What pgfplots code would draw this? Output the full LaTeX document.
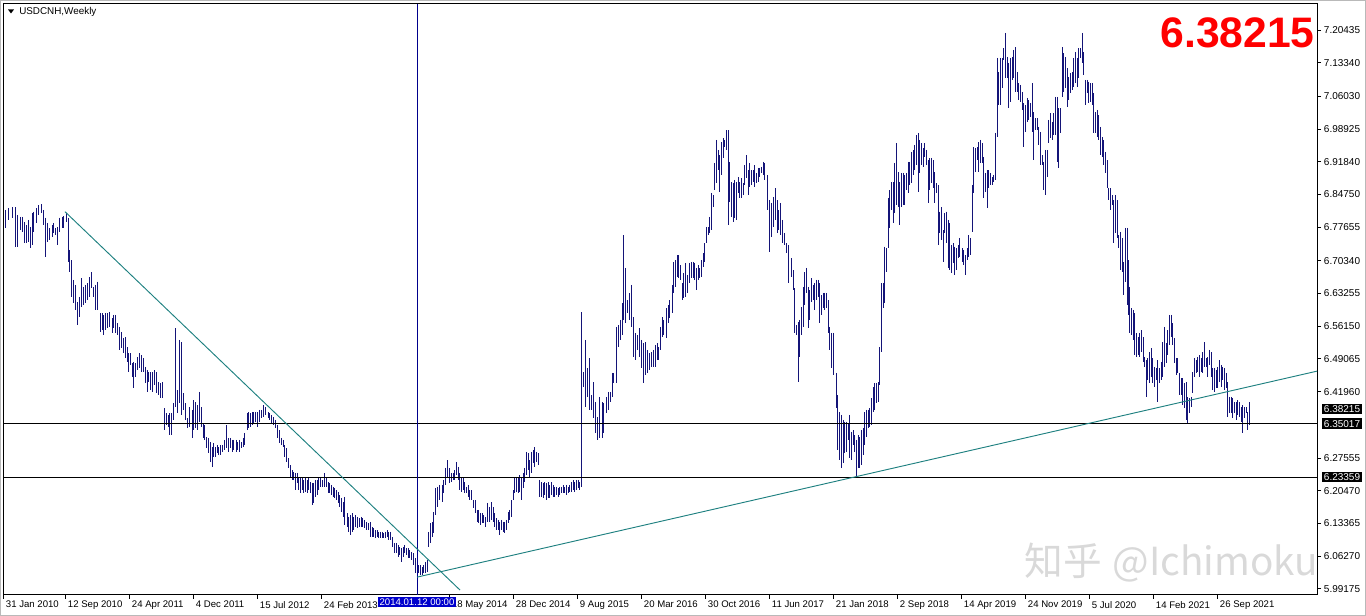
\documentclass[border=0pt]{standalone}
\usepackage{fontspec}
\setmainfont{Liberation Sans}
\newfontfamily\cjk{Noto Sans CJK SC}
\usepackage{pgfplots}
\usepackage{pgfplotstable}
\pgfplotsset{compat=1.18}

\definecolor{barblue}{RGB}{20,20,120}
\definecolor{trend}{RGB}{30,128,128}
\definecolor{vline}{RGB}{0,0,140}
\definecolor{selblue}{RGB}{0,0,204}
\newcommand\tfont{\fontsize{7.2}{8.5}\selectfont}
\newcommand\pfont{\fontsize{7.5}{9}\selectfont}

% weekly bars: x position (chart px), high, low
\pgfplotstableread[row sep=\\]{
x hi lo\\
5 6.814 6.775\\ 8 6.818 6.792\\ 12 6.820 6.797\\ 15 6.820 6.734\\ 17 6.803 6.734\\ 20 6.799 6.770\\ 22 6.799 6.766\\ 24 6.788 6.742\\ 26 6.781 6.742\\ 28 6.792 6.744\\
30 6.777 6.731\\ 32 6.807 6.738\\ 33 6.810 6.766\\ 36 6.818 6.786\\ 38 6.824 6.803\\ 41 6.826 6.807\\ 43 6.814 6.781\\ 45 6.797 6.712\\ 47 6.786 6.744\\ 49 6.775 6.749\\
52 6.781 6.755\\ 53 6.786 6.764\\ 55 6.775 6.759\\ 57 6.777 6.738\\ 59 6.797 6.766\\ 62 6.799 6.775\\ 63 6.801 6.775\\ 66 6.807 6.788\\ 68 6.797 6.701\\ 69 6.727 6.679\\
71 6.705 6.625\\ 73 6.662 6.612\\ 75 6.651 6.597\\ 77 6.614 6.564\\ 79 6.625 6.581\\ 81 6.666 6.603\\ 83 6.647 6.607\\ 85 6.651 6.612\\ 87 6.655 6.618\\ 89 6.668 6.625\\
91 6.679 6.645\\ 93 6.647 6.625\\ 95 6.651 6.597\\ 97 6.658 6.597\\ 100 6.590 6.549\\ 102 6.590 6.553\\ 103 6.586 6.542\\ 105 6.590 6.553\\ 107 6.590 6.557\\ 109 6.592 6.560\\
112 6.579 6.547\\ 113 6.586 6.557\\ 115 6.586 6.547\\ 117 6.568 6.542\\ 119 6.560 6.510\\ 121 6.549 6.514\\ 123 6.536 6.503\\ 125 6.538 6.492\\ 127 6.516 6.484\\ 128 6.503 6.462\\
130 6.503 6.477\\ 132 6.481 6.451\\ 133 6.484 6.427\\ 135 6.481 6.451\\ 137 6.494 6.466\\ 139 6.503 6.471\\ 141 6.499 6.462\\ 143 6.492 6.462\\ 145 6.473 6.438\\ 147 6.466 6.419\\
148 6.462 6.440\\ 150 6.462 6.423\\ 152 6.462 6.419\\ 154 6.466 6.434\\ 156 6.462 6.416\\ 158 6.440 6.412\\ 160 6.438 6.405\\ 162 6.440 6.405\\ 164 6.384 6.336\\ 166 6.373 6.347\\
168 6.369 6.343\\ 169 6.373 6.325\\ 171 6.373 6.325\\ 173 6.395 6.358\\ 175 6.557 6.386\\ 177 6.423 6.373\\ 179 6.532 6.395\\ 181 6.527 6.369\\ 183 6.416 6.380\\ 185 6.395 6.358\\
187 6.362 6.340\\ 189 6.386 6.343\\ 192 6.380 6.319\\ 193 6.401 6.336\\ 195 6.397 6.340\\ 197 6.390 6.336\\ 199 6.419 6.354\\ 201 6.386 6.343\\ 203 6.351 6.319\\ 204 6.347 6.315\\
206 6.321 6.297\\ 208 6.319 6.286\\ 210 6.310 6.267\\ 212 6.299 6.256\\ 213 6.308 6.277\\ 215 6.299 6.277\\ 217 6.304 6.286\\ 218 6.299 6.282\\ 220 6.304 6.282\\ 222 6.304 6.288\\
224 6.315 6.293\\ 226 6.347 6.297\\ 228 6.319 6.288\\ 230 6.319 6.297\\ 232 6.315 6.288\\ 233 6.315 6.293\\ 236 6.315 6.288\\ 237 6.310 6.293\\ 239 6.315 6.288\\ 241 6.310 6.297\\
243 6.319 6.299\\ 244 6.330 6.304\\ 247 6.373 6.336\\ 248 6.375 6.340\\ 250 6.373 6.343\\ 252 6.375 6.347\\ 253 6.375 6.351\\ 255 6.375 6.354\\ 257 6.375 6.343\\ 259 6.380 6.354\\
261 6.380 6.362\\ 263 6.390 6.364\\ 265 6.386 6.369\\ 268 6.375 6.362\\ 269 6.373 6.358\\ 271 6.369 6.351\\ 273 6.364 6.347\\ 275 6.358 6.340\\ 277 6.347 6.319\\ 279 6.336 6.308\\
281 6.319 6.304\\ 283 6.315 6.299\\ 284 6.304 6.277\\ 286 6.297 6.267\\ 288 6.275 6.254\\ 290 6.260 6.232\\ 292 6.249 6.228\\ 293 6.245 6.228\\ 295 6.243 6.206\\ 297 6.243 6.221\\
298 6.234 6.206\\ 300 6.234 6.199\\ 302 6.232 6.206\\ 303 6.228 6.199\\ 305 6.234 6.202\\ 307 6.228 6.199\\ 308 6.232 6.206\\ 310 6.223 6.199\\ 312 6.221 6.174\\ 313 6.221 6.178\\
315 6.228 6.191\\ 317 6.228 6.195\\ 318 6.232 6.206\\ 320 6.232 6.213\\ 322 6.228 6.213\\ 324 6.243 6.213\\ 326 6.234 6.213\\ 328 6.223 6.199\\ 329 6.221 6.199\\ 331 6.217 6.195\\
333 6.213 6.191\\ 334 6.210 6.189\\ 336 6.206 6.184\\ 338 6.202 6.178\\ 339 6.195 6.169\\ 341 6.189 6.158\\ 343 6.180 6.148\\ 344 6.191 6.130\\ 347 6.156 6.126\\ 348 6.148 6.115\\
350 6.152 6.108\\ 352 6.156 6.115\\ 353 6.148 6.119\\ 355 6.152 6.126\\ 357 6.148 6.124\\ 359 6.145 6.126\\ 361 6.148 6.126\\ 362 6.145 6.126\\ 364 6.141 6.124\\ 366 6.137 6.119\\
368 6.134 6.119\\ 370 6.137 6.104\\ 372 6.126 6.104\\ 373 6.124 6.104\\ 375 6.119 6.102\\ 377 6.119 6.104\\ 378 6.115 6.102\\ 380 6.115 6.102\\ 382 6.115 6.102\\ 383 6.113 6.102\\
385 6.115 6.102\\ 387 6.119 6.104\\ 388 6.115 6.098\\ 390 6.115 6.098\\ 392 6.104 6.082\\ 394 6.091 6.069\\ 396 6.091 6.069\\ 398 6.087 6.061\\ 399 6.082 6.065\\ 401 6.080 6.050\\
403 6.082 6.061\\ 404 6.087 6.069\\ 406 6.080 6.065\\ 408 6.080 6.058\\ 409 6.076 6.058\\ 411 6.072 6.054\\ 413 6.069 6.043\\ 415 6.058 6.026\\ 417 6.048 6.011\\ 418 6.043 6.026\\
420 6.043 6.022\\ 422 6.039 6.022\\ 423 6.043 6.026\\ 425 6.050 6.026\\ 427 6.054 6.028\\ 428 6.115 6.082\\ 430 6.134 6.091\\ 432 6.137 6.104\\ 433 6.158 6.113\\ 435 6.210 6.152\\
437 6.213 6.169\\ 439 6.217 6.184\\ 442 6.217 6.180\\ 443 6.228 6.199\\ 445 6.254 6.217\\ 447 6.271 6.232\\ 449 6.254 6.221\\ 451 6.243 6.223\\ 453 6.243 6.228\\ 454 6.249 6.228\\
456 6.267 6.238\\ 458 6.256 6.228\\ 459 6.243 6.206\\ 461 6.234 6.202\\ 463 6.232 6.206\\ 464 6.223 6.199\\ 466 6.213 6.199\\ 468 6.217 6.191\\ 469 6.206 6.184\\ 471 6.206 6.184\\
473 6.184 6.167\\ 475 6.184 6.156\\ 477 6.163 6.137\\ 478 6.163 6.134\\ 480 6.156 6.130\\ 482 6.156 6.134\\ 483 6.152 6.134\\ 485 6.148 6.126\\ 487 6.178 6.137\\ 489 6.169 6.137\\
491 6.180 6.141\\ 493 6.169 6.137\\ 494 6.156 6.126\\ 496 6.145 6.119\\ 498 6.141 6.119\\ 499 6.137 6.108\\ 501 6.141 6.119\\ 503 6.137 6.115\\ 504 6.137 6.113\\ 506 6.141 6.119\\
508 6.158 6.134\\ 509 6.163 6.141\\ 511 6.184 6.148\\ 513 6.206 6.184\\ 514 6.232 6.199\\ 516 6.232 6.202\\ 518 6.234 6.199\\ 519 6.238 6.202\\ 521 6.232 6.184\\ 523 6.243 6.210\\
524 6.254 6.223\\ 526 6.289 6.238\\ 528 6.286 6.249\\ 529 6.271 6.234\\ 531 6.289 6.243\\ 533 6.293 6.265\\ 534 6.299 6.256\\ 536 6.289 6.267\\ 538 6.286 6.260\\ 539 6.228 6.191\\
541 6.223 6.191\\ 543 6.221 6.189\\ 544 6.223 6.195\\ 546 6.221 6.184\\ 548 6.223 6.189\\ 549 6.217 6.189\\ 551 6.223 6.195\\ 553 6.217 6.191\\ 554 6.213 6.191\\ 556 6.213 6.195\\
558 6.210 6.191\\ 559 6.213 6.195\\ 561 6.213 6.199\\ 563 6.217 6.199\\ 564 6.213 6.199\\ 566 6.217 6.195\\ 568 6.213 6.199\\ 569 6.217 6.202\\ 571 6.223 6.202\\ 573 6.228 6.206\\
574 6.223 6.202\\ 576 6.228 6.206\\ 578 6.228 6.210\\ 579 6.223 6.206\\ 581 6.592 6.213\\ 583 6.462 6.430\\ 585 6.532 6.386\\ 587 6.471 6.408\\ 589 6.492 6.380\\ 591 6.412 6.380\\
593 6.440 6.362\\ 595 6.397 6.330\\ 597 6.364 6.315\\ 599 6.408 6.319\\ 602 6.397 6.319\\ 603 6.395 6.330\\ 606 6.408 6.373\\ 608 6.419 6.380\\ 610 6.419 6.397\\ 612 6.460 6.408\\
613 6.460 6.438\\ 616 6.560 6.438\\ 618 6.564 6.516\\ 620 6.575 6.532\\ 622 6.612 6.542\\ 623 6.759 6.575\\ 625 6.688 6.568\\ 627 6.618 6.590\\ 629 6.633 6.575\\ 631 6.651 6.560\\
633 6.581 6.495\\ 635 6.547 6.488\\ 637 6.542 6.510\\ 639 6.557 6.495\\ 641 6.532 6.471\\ 643 6.525 6.438\\ 645 6.527 6.456\\ 647 6.510 6.460\\ 649 6.503 6.466\\ 651 6.505 6.473\\
653 6.510 6.473\\ 655 6.521 6.473\\ 657 6.525 6.488\\ 658 6.516 6.488\\ 660 6.560 6.510\\ 662 6.581 6.538\\ 663 6.575 6.542\\ 666 6.601 6.536\\ 668 6.607 6.568\\ 669 6.618 6.579\\
672 6.651 6.590\\ 673 6.701 6.634\\ 675 6.705 6.647\\ 677 6.716 6.668\\ 678 6.716 6.666\\ 680 6.694 6.662\\ 682 6.655 6.618\\ 683 6.677 6.623\\ 685 6.699 6.625\\ 687 6.673 6.634\\
689 6.699 6.655\\ 691 6.701 6.666\\ 693 6.701 6.666\\ 694 6.699 6.662\\ 696 6.688 6.640\\ 698 6.694 6.662\\ 699 6.688 6.666\\ 701 6.705 6.668\\ 703 6.720 6.690\\ 704 6.742 6.701\\
706 6.777 6.742\\ 708 6.777 6.759\\ 709 6.799 6.764\\ 711 6.851 6.770\\ 713 6.846 6.820\\ 714 6.916 6.857\\ 716 6.966 6.872\\ 718 6.944 6.900\\ 719 6.933 6.853\\ 721 6.961 6.890\\
723 6.970 6.927\\ 724 6.966 6.950\\ 726 6.987 6.944\\ 728 6.987 6.781\\ 729 6.918 6.831\\ 731 6.874 6.799\\ 733 6.872 6.788\\ 734 6.879 6.797\\ 736 6.874 6.792\\ 738 6.885 6.851\\
739 6.874 6.840\\ 741 6.883 6.840\\ 743 6.872 6.846\\ 744 6.911 6.868\\ 746 6.933 6.883\\ 748 6.900 6.846\\ 749 6.916 6.864\\ 751 6.900 6.868\\ 753 6.900 6.874\\ 754 6.911 6.864\\
756 6.894 6.872\\ 758 6.905 6.874\\ 759 6.905 6.885\\ 761 6.907 6.894\\ 763 6.918 6.890\\ 764 6.916 6.879\\ 767 6.890 6.814\\ 769 6.835 6.722\\ 771 6.829 6.755\\ 773 6.842 6.777\\
775 6.861 6.792\\ 777 6.835 6.764\\ 778 6.814 6.770\\ 780 6.829 6.759\\ 782 6.792 6.742\\ 784 6.764 6.738\\ 786 6.742 6.720\\ 788 6.738 6.655\\ 791 6.709 6.668\\ 793 6.683 6.640\\
794 6.644 6.547\\ 796 6.564 6.542\\ 798 6.571 6.440\\ 799 6.575 6.495\\ 801 6.603 6.542\\ 803 6.647 6.560\\ 804 6.679 6.607\\ 806 6.688 6.634\\ 808 6.647 6.557\\ 809 6.640 6.575\\
811 6.666 6.614\\ 813 6.651 6.618\\ 814 6.655 6.597\\ 816 6.662 6.618\\ 818 6.662 6.625\\ 819 6.655 6.568\\ 821 6.629 6.586\\ 823 6.634 6.601\\ 824 6.634 6.597\\ 826 6.634 6.601\\
828 6.618 6.547\\ 829 6.560 6.510\\ 831 6.547 6.471\\ 833 6.547 6.456\\ 836 6.460 6.384\\ 837 6.412 6.293\\ 839 6.375 6.271\\ 841 6.369 6.254\\ 843 6.358 6.265\\ 844 6.354 6.286\\
846 6.354 6.288\\ 848 6.351 6.315\\ 849 6.369 6.275\\ 851 6.332 6.271\\ 853 6.336 6.304\\ 854 6.325 6.288\\ 856 6.315 6.232\\ 858 6.325 6.254\\ 859 6.321 6.254\\ 861 6.336 6.260\\
863 6.340 6.282\\ 864 6.375 6.304\\ 866 6.380 6.321\\ 868 6.380 6.340\\ 869 6.384 6.343\\ 871 6.405 6.347\\ 873 6.429 6.375\\ 874 6.438 6.380\\ 876 6.438 6.395\\ 878 6.440 6.397\\
879 6.516 6.434\\ 881 6.655 6.505\\ 883 6.655 6.601\\ 884 6.734 6.612\\ 886 6.731 6.679\\ 888 6.840 6.731\\ 889 6.857 6.775\\ 891 6.874 6.814\\ 893 6.874 6.786\\ 894 6.916 6.807\\
896 6.959 6.824\\ 898 6.896 6.820\\ 899 6.874 6.781\\ 901 6.894 6.820\\ 903 6.894 6.824\\ 904 6.890 6.824\\ 906 6.894 6.857\\ 908 6.918 6.851\\ 909 6.918 6.868\\ 911 6.940 6.872\\
913 6.944 6.890\\ 914 6.955 6.900\\ 916 6.976 6.911\\ 918 6.981 6.853\\ 919 6.966 6.894\\ 921 6.959 6.911\\ 923 6.948 6.907\\ 924 6.959 6.929\\ 926 6.944 6.911\\ 928 6.922 6.829\\
929 6.927 6.857\\ 931 6.927 6.872\\ 933 6.922 6.861\\ 934 6.896 6.829\\ 936 6.872 6.851\\ 938 6.868 6.738\\ 939 6.810 6.764\\ 941 6.820 6.749\\ 943 6.770 6.701\\ 944 6.807 6.764\\
946 6.810 6.742\\ 948 6.792 6.688\\ 949 6.786 6.683\\ 951 6.738 6.677\\ 953 6.742 6.699\\ 954 6.734 6.673\\ 956 6.731 6.683\\ 958 6.738 6.709\\ 959 6.753 6.712\\ 962 6.731 6.701\\
963 6.727 6.694\\ 965 6.716 6.673\\ 967 6.731 6.705\\ 968 6.759 6.712\\ 970 6.753 6.716\\ 972 6.868 6.766\\ 973 6.950 6.851\\ 975 6.948 6.896\\ 977 6.950 6.922\\ 978 6.961 6.896\\
980 6.966 6.916\\ 982 6.959 6.916\\ 983 6.929 6.840\\ 985 6.894 6.853\\ 987 6.900 6.818\\ 988 6.900 6.861\\ 990 6.894 6.868\\ 992 6.885 6.868\\ 993 6.890 6.874\\ 995 6.981 6.879\\
997 7.144 6.972\\ 998 7.113 7.042\\ 1000 7.144 7.042\\ 1002 7.144 7.079\\ 1003 7.165 7.139\\ 1005 7.198 7.100\\ 1007 7.146 7.100\\ 1008 7.133 7.035\\ 1010 7.144 7.048\\ 1012 7.146 7.096\\
1013 7.161 7.100\\ 1015 7.167 7.070\\ 1017 7.113 7.070\\ 1018 7.089 7.052\\ 1020 7.085 7.048\\ 1022 7.070 7.031\\ 1023 7.046 6.950\\ 1025 7.042 6.983\\ 1027 7.057 7.005\\ 1028 7.052 7.009\\
1030 7.046 7.015\\ 1032 7.089 6.983\\ 1033 7.026 6.922\\ 1035 7.013 6.987\\ 1037 7.013 6.987\\ 1038 6.994 6.955\\ 1040 6.983 6.911\\ 1042 6.933 6.911\\ 1043 6.918 6.857\\ 1045 6.944 6.846\\
1047 6.944 6.885\\ 1048 7.009 6.959\\ 1050 7.024 6.970\\ 1052 7.005 6.966\\ 1053 7.024 6.976\\ 1055 7.059 6.976\\ 1057 7.059 6.918\\ 1058 7.035 6.905\\ 1060 7.035 6.981\\ 1062 7.167 7.059\\
1063 7.154 7.070\\ 1065 7.146 7.079\\ 1067 7.122 7.037\\ 1068 7.102 7.052\\ 1070 7.111 7.068\\ 1072 7.113 7.074\\ 1073 7.144 7.081\\ 1075 7.157 7.089\\ 1077 7.144 7.081\\ 1078 7.165 7.100\\
1080 7.165 7.144\\ 1082 7.198 7.133\\ 1083 7.157 7.107\\ 1085 7.096 7.042\\ 1087 7.096 7.068\\ 1088 7.092 7.046\\ 1090 7.089 7.048\\ 1092 7.089 7.042\\ 1093 7.068 6.981\\ 1095 7.026 6.981\\
1097 7.031 6.972\\ 1098 7.020 6.966\\ 1100 6.994 6.933\\ 1102 6.972 6.929\\ 1103 6.966 6.911\\ 1105 6.940 6.894\\ 1107 6.922 6.861\\ 1108 6.861 6.835\\ 1110 6.861 6.814\\ 1112 6.846 6.824\\
1113 6.835 6.742\\ 1115 6.846 6.764\\ 1117 6.835 6.753\\ 1118 6.759 6.731\\ 1120 6.766 6.683\\ 1122 6.753 6.679\\ 1123 6.701 6.629\\ 1125 6.775 6.657\\ 1127 6.775 6.607\\ 1128 6.705 6.586\\
1129 6.647 6.547\\ 1131 6.601 6.542\\ 1133 6.597 6.532\\ 1134 6.590 6.499\\ 1136 6.547 6.495\\ 1138 6.538 6.499\\ 1139 6.547 6.495\\ 1141 6.553 6.505\\ 1143 6.538 6.484\\ 1144 6.495 6.473\\
1146 6.488 6.408\\ 1147 6.492 6.445\\ 1149 6.505 6.438\\ 1151 6.514 6.451\\ 1152 6.492 6.438\\ 1154 6.473 6.430\\ 1156 6.471 6.445\\ 1157 6.488 6.397\\ 1159 6.471 6.438\\ 1161 6.484 6.445\\
1162 6.527 6.451\\ 1164 6.560 6.473\\ 1166 6.525 6.481\\ 1167 6.553 6.499\\ 1169 6.586 6.521\\ 1171 6.586 6.538\\ 1172 6.568 6.521\\ 1174 6.536 6.481\\ 1176 6.492 6.456\\ 1177 6.492 6.460\\
1179 6.460 6.412\\ 1181 6.449 6.412\\ 1182 6.449 6.390\\ 1184 6.438 6.384\\ 1186 6.440 6.358\\ 1187 6.408 6.351\\ 1189 6.405 6.373\\ 1191 6.408 6.386\\ 1192 6.462 6.416\\ 1194 6.492 6.451\\
1196 6.488 6.460\\ 1197 6.494 6.462\\ 1199 6.499 6.451\\ 1201 6.492 6.462\\ 1202 6.505 6.460\\ 1204 6.527 6.473\\ 1206 6.492 6.473\\ 1207 6.494 6.451\\ 1209 6.510 6.477\\ 1211 6.505 6.451\\
1212 6.471 6.423\\ 1214 6.471 6.419\\ 1216 6.466 6.427\\ 1217 6.473 6.427\\ 1219 6.488 6.440\\ 1221 6.477 6.430\\ 1222 6.473 6.445\\ 1224 6.471 6.423\\ 1226 6.460 6.427\\ 1227 6.440 6.364\\
1229 6.408 6.373\\ 1231 6.408 6.373\\ 1232 6.405 6.362\\ 1234 6.397 6.373\\ 1236 6.397 6.358\\ 1237 6.401 6.369\\ 1239 6.397 6.364\\ 1241 6.386 6.354\\ 1242 6.390 6.330\\ 1244 6.386 6.362\\
1246 6.386 6.373\\ 1247 6.375 6.336\\ 1249 6.397 6.347\\
}\bars

\begin{document}
\begin{tikzpicture}
\path[use as bounding box] (0pt,0pt) rectangle (1024.5pt,462pt);
\begin{axis}[
    at={(2.25pt,15.75pt)}, anchor=south west,
    scale only axis, width=985.5pt, height=443.25pt,
    xmin=3, xmax=1317, ymin=5.97825, ymax=7.26072,
    clip mode=individual,
    axis line style={black, line width=0.75pt},
    tick align=outside, major tick length=3pt,
    tick style={black, line width=0.6pt},
    xtick pos=lower, ytick pos=upper, yticklabel pos=upper,
    xtick={3,65,129,193,257,321,449,513,577,641,705,769,833,897,961,1025,1089,1153,1217},
    xticklabels={31 Jan 2010,12 Sep 2010,24 Apr 2011,4 Dec 2011,15 Jul 2012,24 Feb 2013,18 May 2014,28 Dec 2014,9 Aug 2015,20 Mar 2016,30 Oct 2016,11 Jun 2017,21 Jan 2018,2 Sep 2018,14 Apr 2019,24 Nov 2019,5 Jul 2020,14 Feb 2021,26 Sep 2021},
    xticklabel style={anchor=north west, font=\tfont, inner xsep=2pt, inner ysep=1.5pt},
    ytick={7.20435,7.13340,7.06030,6.98925,6.91840,6.84750,6.77655,6.70340,6.63255,6.56150,6.49065,6.41960,6.27555,6.20470,6.13365,6.06270,5.99175},
    yticklabels={7.20435,7.13340,7.06030,6.98925,6.91840,6.84750,6.77655,6.70340,6.63255,6.56150,6.49065,6.41960,6.27555,6.20470,6.13365,6.06270,5.99175},
    yticklabel style={anchor=west, font=\pfont, inner xsep=2pt},
]
% price bars (high-low)
\addplot[draw=none, mark=none, forget plot,
    error bars/.cd, y dir=minus, y explicit, error mark=none,
    error bar style={draw=barblue, line width=0.72pt}]
    table[x=x, y=hi, y error expr=\thisrow{hi}-\thisrow{lo}] {\bars};

% horizontal levels
\addplot[black, line width=0.75pt] coordinates {(3,6.35017) (1317,6.35017)};
\addplot[black, line width=0.75pt] coordinates {(3,6.23359) (1317,6.23359)};
% vertical marker
\addplot[vline, line width=0.75pt] coordinates {(417,5.97825) (417,7.26072)};
% trend lines
\addplot[trend, line width=0.7pt] coordinates {(65,6.810) (460,5.989)};
\addplot[trend, line width=0.7pt] coordinates {(417,6.017) (1317,6.464)};

% price boxes on the right scale
\node[fill=black, text=white, anchor=west, inner xsep=1.5pt, inner ysep=1.2pt, font=\pfont, xshift=3.5pt] at (axis cs:1317,6.38215) {6.38215};
\node[fill=black, text=white, anchor=west, inner xsep=1.5pt, inner ysep=1.2pt, font=\pfont, xshift=3.5pt] at (axis cs:1317,6.35017) {6.35017};
\node[fill=black, text=white, anchor=west, inner xsep=1.5pt, inner ysep=1.2pt, font=\pfont, xshift=3.5pt] at (axis cs:1317,6.23359) {6.23359};
% selected date on the time scale
\node[fill=selblue, text=white, anchor=north, inner xsep=1.2pt, inner ysep=1.5pt, font=\tfont, yshift=-1pt] at (axis cs:417,5.97825) {2014.01.12 00:00};
\end{axis}

\begin{scope}[shift={(0pt,462pt)}, x=0.75pt, y=-0.75pt]
\draw[gray!55, line width=0.75pt] (0.5,0.5) rectangle (1365.5,615.5);
\fill[black] (8,9.5) -- (14,9.5) -- (11,13.5) -- cycle;
\node[anchor=west, font=\fontsize{7.4}{8.5}\selectfont, inner sep=0pt] at (19,12) {USDCNH,Weekly};
\node[anchor=east, text=red, font=\fontsize{32}{34}\selectfont\bfseries, inner sep=0pt] at (1315,33) {6.38215};
\node[anchor=east, text=gray!30, font=\cjk\fontsize{29}{32}\selectfont, inner sep=0pt] at (1318,563) {知乎\hspace{8pt}@Ichimoku};
\end{scope}
\end{tikzpicture}
\end{document}
